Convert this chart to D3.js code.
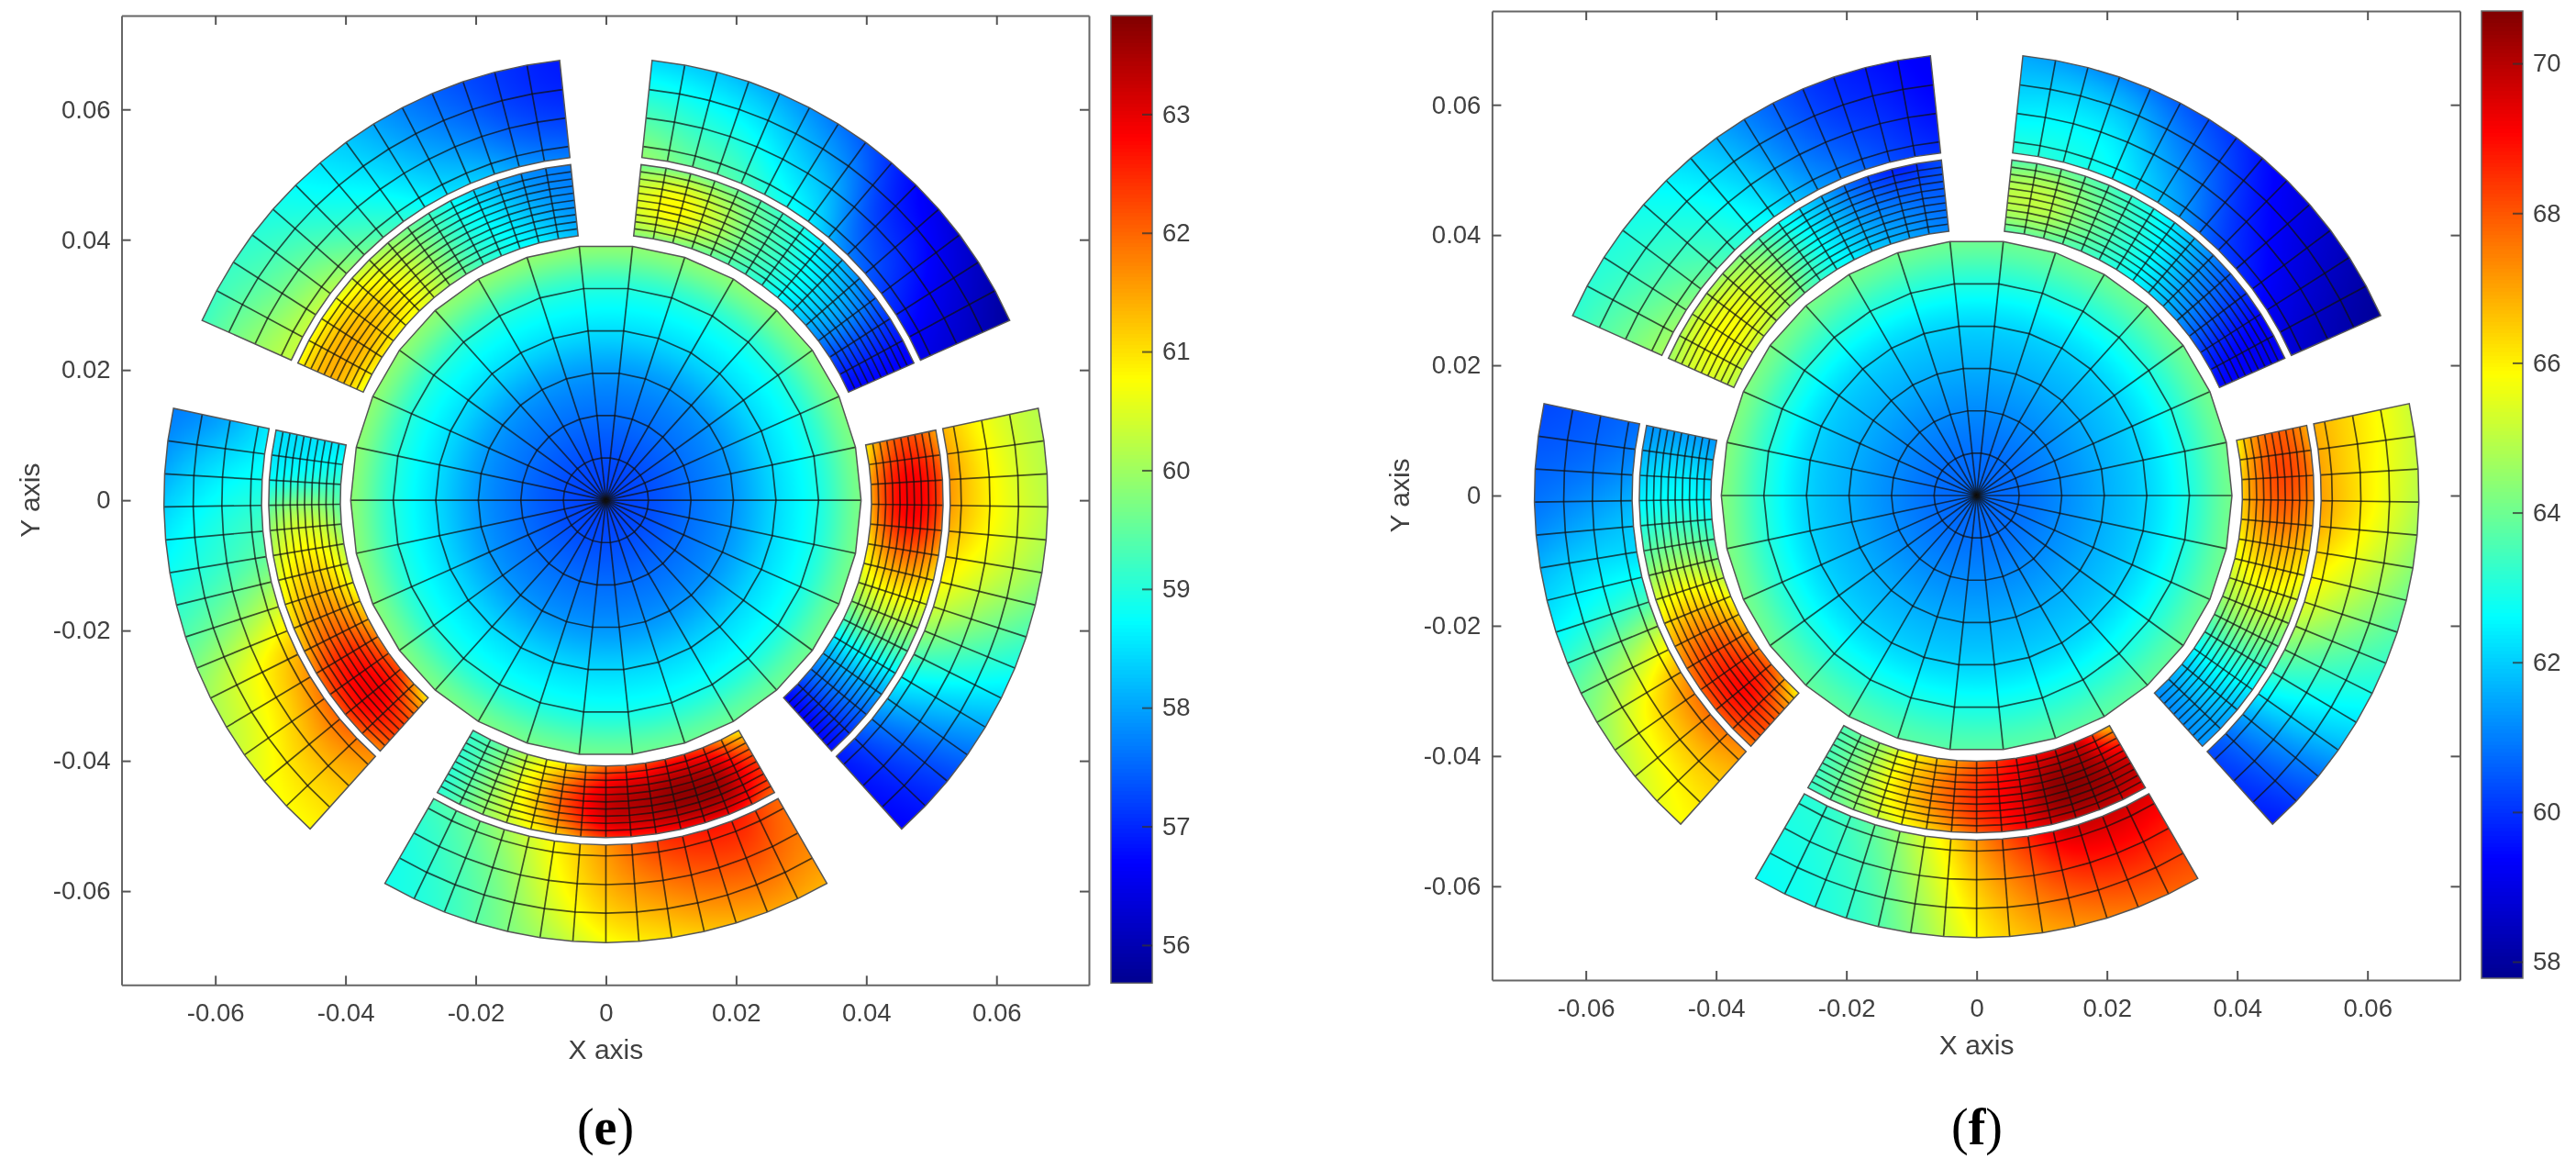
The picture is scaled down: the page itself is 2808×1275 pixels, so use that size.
<!DOCTYPE html>
<html>
<head>
<meta charset="utf-8">
<script src="https://cdn.jsdelivr.net/npm/d3@7"></script>
<style>
  html, body { margin: 0; background: #fff; }
  #stage { position: relative; width: 2808px; height: 1275px; overflow: hidden; }
  canvas, svg { position: absolute; left: 0; top: 0; }
  text { font-family: "Liberation Sans", Arial, sans-serif; fill: #404040; }
</style>
</head>
<body>
<div id="stage">
  <canvas id="field" width="2808" height="1275"></canvas>
  <svg id="chart" width="2808" height="1275"></svg>
</div>
<script>
// tick labels
const xyTicks = [-0.06, -0.04, -0.02, 0, 0.02, 0.04, 0.06];
const barTicksE = [56, 57, 58, 59, 60, 61, 62, 63];
const barTicksF = [58, 60, 62, 64, 66, 68, 70];

// colour limits
const rangeE = [55.68, 63.83];
const rangeF = [57.78, 70.7];

// mesh
const discRadii = [0, 0.00653, 0.01307, 0.0196, 0.02613, 0.03267, 0.0392];
const padInnerRadii = [0.0408, 0.0419, 0.043, 0.0441, 0.0452, 0.0463, 0.0474, 0.0485, 0.0496, 0.0507, 0.0518];
const padOuterRadii = [0.0529, 0.0546, 0.059, 0.0634, 0.0679];
const padStarts = [-48, -120, -192, -264, -336];

// disc temperature, rows are the angles 0,60,120,180,240,300, columns are discRadii
const discE = [
  [57.2, 57.31, 57.58, 57.9, 58.45, 58.94, 59.72],
  [57.2, 57.31, 57.58, 57.9, 58.47, 59.0, 59.85],
  [57.2, 57.31, 57.58, 57.92, 58.5, 59.04, 59.9],
  [57.2, 57.31, 57.58, 57.92, 58.47, 59.02, 59.85],
  [57.2, 57.31, 57.58, 57.9, 58.45, 58.94, 59.7],
  [57.2, 57.31, 57.56, 57.88, 58.42, 58.9, 59.6]
];
const discF = [
  [60.7, 60.8, 61.15, 61.6, 62.1, 63.0, 64.1],
  [60.7, 60.8, 61.15, 61.6, 62.1, 63.0, 64.0],
  [60.7, 60.8, 61.15, 61.6, 62.1, 63.05, 64.1],
  [60.7, 60.8, 61.15, 61.6, 62.1, 63.1, 64.3],
  [60.7, 60.8, 61.15, 61.6, 62.1, 62.95, 63.8],
  [60.7, 60.8, 61.15, 61.6, 62.1, 62.95, 63.8]
];

// pad temperature, rows step 7.5 deg from the pad's start angle, columns are inner, mid, outer radius
const eRightInner = [[56.7,56.7,56.8],[57.5,57.5,57.4],[58.3,58.4,58.3],[59.4,59.7,59.5],[60.3,60.8,60.5],[60.9,61.9,61.3],[61.4,62.8,62.0],[61.5,62.8,62.1],[60.9,62.2,61.5]];
const eRightOuter = [[56.9,56.8,56.7],[57.6,57.3,57.1],[58.5,58.1,57.8],[59.5,59.0,58.6],[60.4,59.8,59.3],[61.0,60.4,59.9],[61.5,60.7,60.2],[61.6,60.7,60.2],[61.4,60.6,60.2]];
const eBottomInner = [[59.2,59.1,59.1],[59.6,59.8,59.8],[60.4,60.9,60.5],[61.0,62.2,61.3],[61.9,63.2,62.4],[62.2,63.5,62.6],[62.5,63.7,62.8],[62.1,63.5,62.8],[60.9,62.4,62.0]];
const eBottomOuter = [[59.3,59.0,58.9],[59.6,59.3,59.1],[60.2,59.8,59.6],[60.9,60.6,60.1],[61.6,61.3,60.7],[62.3,61.7,61.0],[62.6,62.0,61.3],[62.6,62.1,61.5],[62.0,61.8,61.4]];
const eLeftInner = [[58.6,58.5,58.5],[59.1,58.9,58.7],[59.6,60.2,59.7],[60.2,60.9,60.3],[60.6,61.4,60.8],[61.3,62.0,61.3],[61.9,62.7,62.0],[62.1,62.9,62.2],[60.9,62.3,61.7]];
const eLeftOuter = [[58.6,58.0,57.7],[58.8,58.5,58.0],[59.2,58.9,58.5],[59.6,59.2,58.9],[60.4,59.8,59.4],[61.3,60.6,60.0],[61.8,60.9,60.3],[62.0,61.2,60.7],[61.7,61.2,60.8]];
const eTopLeftInner = [[58.2,57.8,57.7],[58.6,58.1,57.8],[58.9,58.6,58.2],[59.3,59.1,58.9],[60.0,59.9,59.6],[60.6,60.7,60.1],[60.8,61.2,60.5],[60.9,61.4,60.7],[60.6,61.4,60.7]];
const eTopLeftOuter = [[57.7,57.1,56.9],[57.9,57.3,57.1],[58.3,57.7,57.4],[58.6,58.1,57.8],[59.1,58.6,58.3],[59.6,59.0,58.7],[60.1,59.4,59.0],[60.3,59.6,59.2],[60.3,59.8,59.2]];
const eTopRightInner = [[56.7,56.7,56.6],[57.2,57.2,57.0],[57.9,58.0,57.6],[58.5,58.6,58.2],[59.0,59.1,58.9],[59.3,59.6,59.3],[59.6,60.3,59.6],[59.8,60.8,59.7],[59.8,60.5,59.6]];
const eTopRightOuter = [[56.5,56.2,55.8],[56.9,56.5,56.1],[57.3,56.9,56.4],[57.8,57.2,56.8],[58.6,58.0,57.4],[59.0,58.4,57.8],[59.4,58.8,58.1],[59.6,59.0,58.3],[59.9,59.2,58.4]];

const fRightInner = [[61.2,61.2,61.3],[61.8,62.0,61.6],[62.9,63.1,62.8],[64.1,64.5,64.1],[65.1,65.7,65.3],[65.8,66.8,66.2],[66.4,67.8,67.0],[66.4,68.2,67.4],[65.9,67.9,66.9]];
const fRightOuter = [[60.3,60.0,59.7],[61.3,61.0,60.6],[62.9,62.4,62.0],[64.3,63.5,63.0],[65.5,64.5,63.7],[66.3,65.3,64.3],[67.0,65.9,64.8],[67.0,66.0,65.1],[66.9,66.1,65.2]];
const fBottomInner = [[63.6,63.5,63.3],[64.3,64.5,64.2],[65.7,66.2,65.4],[66.7,67.5,66.5],[67.8,68.6,67.9],[68.8,69.4,68.9],[69.3,70.5,69.7],[69.5,70.4,69.9],[66.5,69.6,69.3]];
const fBottomOuter = [[63.1,62.9,62.7],[63.4,63.1,62.9],[64.2,63.7,63.4],[65.6,65.0,64.5],[67.2,66.5,65.9],[68.5,67.6,66.8],[69.6,68.4,67.3],[69.7,68.7,67.7],[69.5,68.6,67.9]];
const fLeftInner = [[61.3,61.4,61.2],[62.1,62.3,61.9],[62.7,63.0,62.7],[63.7,64.2,63.8],[65.0,65.8,65.3],[66.2,67.3,66.7],[67.2,68.5,67.7],[67.7,69.0,68.0],[65.9,68.0,67.5]];
const fLeftOuter = [[60.8,60.5,60.3],[61.2,60.8,60.6],[61.8,61.4,61.0],[62.3,62.2,61.8],[63.6,63.1,62.6],[65.7,64.6,63.8],[67.3,65.9,64.6],[67.7,66.3,65.3],[67.3,66.4,65.8]];
const fTopLeftInner = [[61.1,60.6,60.3],[61.4,60.8,59.7],[61.9,61.2,60.5],[62.6,62.1,61.7],[63.3,63.3,62.8],[64.4,64.8,64.0],[65.0,65.6,64.7],[65.2,65.8,64.9],[64.9,65.4,64.6]];
const fTopLeftOuter = [[60.0,59.5,59.3],[60.3,59.9,59.6],[60.9,60.3,60.0],[61.5,61.0,60.7],[62.5,62.0,61.6],[63.2,62.8,62.4],[63.9,63.3,62.9],[64.4,63.6,63.1],[64.7,63.9,63.2]];
const fTopRightInner = [[59.5,59.2,59.2],[60.0,59.6,59.4],[61.0,60.6,60.2],[61.9,61.5,61.2],[62.6,62.6,62.3],[63.2,63.4,63.1],[63.6,64.2,63.6],[63.9,65.0,63.9],[63.7,65.0,63.6]];
const fTopRightOuter = [[58.8,58.3,57.9],[59.2,58.7,58.3],[59.8,59.2,58.8],[60.4,59.8,59.3],[61.4,60.7,60.0],[62.2,61.4,60.5],[62.8,62.2,61.0],[63.0,62.4,61.3],[63.2,62.3,61.5]];

const charts = [
  { tag: 'e', left: 132.5, right: 1187, top: 17, bottom: 1073.3, barLeft: 1211, barRight: 1256, labelX: 660,
    range: rangeE, barTicks: barTicksE, disc: discE, yLabelX: 32,
    inner: [eRightInner, eBottomInner, eLeftInner, eTopLeftInner, eTopRightInner],
    outer: [eRightOuter, eBottomOuter, eLeftOuter, eTopLeftOuter, eTopRightOuter] },
  { tag: 'f', left: 1626.4, right: 2681.5, top: 12, bottom: 1068, barLeft: 2705, barRight: 2750, labelX: 2155,
    range: rangeF, barTicks: barTicksF, disc: discF, yLabelX: 1525,
    inner: [fRightInner, fBottomInner, fLeftInner, fTopLeftInner, fTopRightInner],
    outer: [fRightOuter, fBottomOuter, fLeftOuter, fTopLeftOuter, fTopRightOuter] }
];

const jet = d3.scaleLinear()
  .domain([0, 0.125, 0.375, 0.625, 0.875, 1])
  .range(['#00008f', '#0000ff', '#00ffff', '#ffff00', '#ff0000', '#800000'])
  .clamp(true);

const svg = d3.select('#chart');
const ctx = document.getElementById('field').getContext('2d');
const rad = Math.PI / 180;

function catmull(a, b, c, d, t) {
  return 0.5 * (2 * b + (c - a) * t + (2 * a - 5 * b + 4 * c - d) * t * t + (3 * b - a - 3 * c + d) * t * t * t);
}
// smooth read-out between the stations of a row
function along(row, s, wrap) {
  const n = row.length;
  const i = wrap ? Math.floor(s) : Math.min(Math.floor(s), n - 2);
  const t = s - i;
  const at = k => wrap ? row[(k + n) % n] : row[Math.max(0, Math.min(n - 1, k))];
  return catmull(at(i - 1), at(i), at(i + 1), at(i + 2), t);
}

function padValue(rows, da, u) {
  const s = Math.max(0, Math.min(8, da / 7.5));
  const v = [0, 1, 2].map(c => along(rows.map(r => r[c]), s, false));
  // quadratic through inner, mid and outer
  return v[0] * (2 * u - 1) * (u - 1) + v[1] * 4 * u * (1 - u) + v[2] * u * (2 * u - 1);
}

function discValue(rows, deg, r) {
  const s = (deg / 60) % 6;
  const col = discRadii.map((_, c) => along(rows.map(row => row[c]), s, true));
  return along(col, Math.min(5.999, r / discRadii[6] * 6), false);
}

function sample(chart, dx, dy) {
  const r = Math.hypot(dx, dy);
  if (r > 0.07) return null;
  let deg = Math.atan2(dy, dx) / rad;
  if (r < 0.04) return discValue(chart.disc, (deg + 360) % 360, r);
  // pad index by nearest centre, five pads on a 72 deg pitch
  const p = ((Math.round((-18 - deg) / 72) % 5) + 5) % 5;
  let da = deg - padStarts[p];
  da = ((da % 360) + 360) % 360;
  if (da > 210) da -= 360;
  if (r < 0.05235) {
    const [r0, r1] = [padInnerRadii[0], padInnerRadii[10]];
    return padValue(chart.inner[p], da, Math.max(0, Math.min(1, (r - r0) / (r1 - r0))));
  }
  const [r0, r1] = [padOuterRadii[0], padOuterRadii[4]];
  return padValue(chart.outer[p], da, Math.max(0, Math.min(1, (r - r0) / (r1 - r0))));
}

function drawChart(chart) {
  const x = d3.scaleLinear().domain([-0.0744, 0.0742]).range([chart.left, chart.right]);
  const y = d3.scaleLinear().domain([-0.0744, 0.0744]).range([chart.bottom, chart.top]);
  const color = d3.scaleLinear().domain(chart.range).range([0, 1]);
  const pt = (r, a) => [x(r * Math.cos(a * rad)), y(r * Math.sin(a * rad))];
  const line = d3.line();

  // outlines first, they clip the shaded field
  const discAngles = d3.range(0, 361, 12);
  const padAngles = s => d3.range(0, 15).map(k => s + k * 60 / 14);
  const polarBox = (r0, r1, angles) => angles.map(a => pt(r0, a)).concat(angles.slice().reverse().map(a => pt(r1, a)));
  const outlines = [discAngles.map(a => pt(discRadii[6], a))];
  padStarts.forEach(s => {
    outlines.push(polarBox(padInnerRadii[0], padInnerRadii[10], padAngles(s)));
    outlines.push(polarBox(padOuterRadii[0], padOuterRadii[4], padAngles(s)));
  });

  // shaded field, one value per pixel through the jet scale
  const x0 = Math.floor(chart.left), w = Math.ceil(chart.right - chart.left);
  const y0 = Math.floor(chart.top), h = Math.ceil(chart.bottom - chart.top);
  const off = document.createElement('canvas');
  off.width = w; off.height = h;
  const oc = off.getContext('2d');
  const img = oc.createImageData(w, h);
  const lut = d3.range(1024).map(i => d3.rgb(jet(i / 1023)));
  for (let j = 0; j < h; j++) {
    const dy = y.invert(y0 + j + 0.5);
    for (let i = 0; i < w; i++) {
      const v = sample(chart, x.invert(x0 + i + 0.5), dy);
      if (v === null) continue;
      const c = lut[Math.max(0, Math.min(1023, Math.round(color(v) * 1023)))];
      const o = (j * w + i) * 4;
      img.data[o] = c.r; img.data[o + 1] = c.g; img.data[o + 2] = c.b; img.data[o + 3] = 255;
    }
  }
  oc.putImageData(img, 0, 0);
  ctx.save();
  ctx.beginPath();
  const clipLine = d3.line().context(ctx);
  outlines.forEach(o => { clipLine(o); ctx.closePath(); });
  ctx.clip();
  ctx.drawImage(off, x0, y0);
  ctx.restore();

  // mesh
  const g = svg.append('g').attr('class', 'chart-' + chart.tag);
  const mesh = g.append('g').attr('fill', 'none').attr('stroke', '#111').attr('stroke-opacity', 0.72).attr('stroke-width', 1.7);
  const meshPaths = [];
  discRadii.slice(1, 6).forEach(r => meshPaths.push(discAngles.map(a => pt(r, a))));
  discAngles.slice(0, 30).forEach(a => meshPaths.push([pt(0, a), pt(discRadii[6], a)]));
  padStarts.forEach(s => {
    const angles = padAngles(s);
    [padInnerRadii, padOuterRadii].forEach(radii => {
      radii.slice(1, -1).forEach(r => meshPaths.push(angles.map(a => pt(r, a))));
      angles.slice(1, -1).forEach(a => meshPaths.push([pt(radii[0], a), pt(radii[radii.length - 1], a)]));
    });
  });
  mesh.selectAll('path').data(meshPaths).join('path').attr('d', d => line(d));
  g.append('g').attr('fill', 'none').attr('stroke', '#555').attr('stroke-width', 1.5)
    .selectAll('path').data(outlines).join('path').attr('d', d => line(d) + 'Z');

  // axes
  const fmt = v => v === 0 ? '0' : v.toFixed(2);
  const axis = (gen, tx, ty) => {
    const a = g.append('g').attr('transform', `translate(${tx},${ty})`).call(gen);
    a.selectAll('path').attr('stroke', '#666').attr('stroke-width', 2);
    a.selectAll('line').attr('stroke', '#555').attr('stroke-width', 2);
    a.selectAll('text').attr('font-size', 27.5).attr('font-family', null).attr('fill', '#404040');
    return a;
  };
  const w2 = chart.right - chart.left;
  axis(d3.axisBottom(x).tickValues(xyTicks).tickSize(-10).tickSizeOuter(0).tickPadding(20).tickFormat(fmt), 0, chart.bottom);
  axis(d3.axisTop(x).tickValues(xyTicks).tickSize(-10).tickSizeOuter(0).tickFormat(''), 0, chart.top);
  axis(d3.axisLeft(y).tickValues(xyTicks).tickSize(-10).tickSizeOuter(0).tickPadding(12).tickFormat(fmt), chart.left, 0);
  axis(d3.axisRight(y).tickValues(xyTicks).tickSize(-10).tickSizeOuter(0).tickFormat(''), chart.left + w2, 0);

  const midX = x(0);
  g.append('text').attr('x', midX).attr('y', chart.bottom + 81).attr('text-anchor', 'middle').attr('font-size', 30).text('X axis');
  g.append('text').attr('transform', `translate(${chart.yLabelX},${y(0)}) rotate(-90)`).attr('text-anchor', 'middle')
    .attr('dy', '0.35em').attr('font-size', 30).text('Y axis');
  const cap = g.append('text').attr('x', chart.labelX).attr('y', 1247).attr('text-anchor', 'middle')
    .style('font-family', '"Liberation Serif", serif').style('fill', '#000').attr('font-size', 56);
  cap.append('tspan').text('(');
  cap.append('tspan').attr('font-weight', 'bold').text(chart.tag);
  cap.append('tspan').text(')');

  // colour bar
  const barY = d3.scaleLinear().domain(chart.range).range([chart.bottom - 2, chart.top]);
  const levels = d3.range(256);
  const lv = i => chart.range[0] + (chart.range[1] - chart.range[0]) * i / 256;
  const step = (barY(chart.range[0]) - barY(chart.range[1])) / 256;
  g.append('g').attr('shape-rendering', 'crispEdges').selectAll('rect').data(levels).join('rect')
    .attr('x', chart.barLeft).attr('width', chart.barRight - chart.barLeft)
    .attr('y', i => barY(lv(i + 1)))
    .attr('height', i => step + (i > 0 ? 1 : 0))
    .attr('fill', i => jet((i + 0.5) / 256));
  g.append('rect').attr('x', chart.barLeft).attr('y', chart.top)
    .attr('width', chart.barRight - chart.barLeft).attr('height', chart.bottom - 2 - chart.top)
    .attr('fill', 'none').attr('stroke', '#666').attr('stroke-width', 1.5);
  const bar = axis(d3.axisRight(barY).tickValues(chart.barTicks).tickSize(-11).tickSizeOuter(0).tickPadding(11).tickFormat(d3.format('d')), chart.barRight, 0);
  bar.select('path').remove();
  bar.selectAll('line').attr('stroke', '#333').attr('stroke-opacity', 0.75);
}

charts.forEach(drawChart);
</script>
</body>
</html>
